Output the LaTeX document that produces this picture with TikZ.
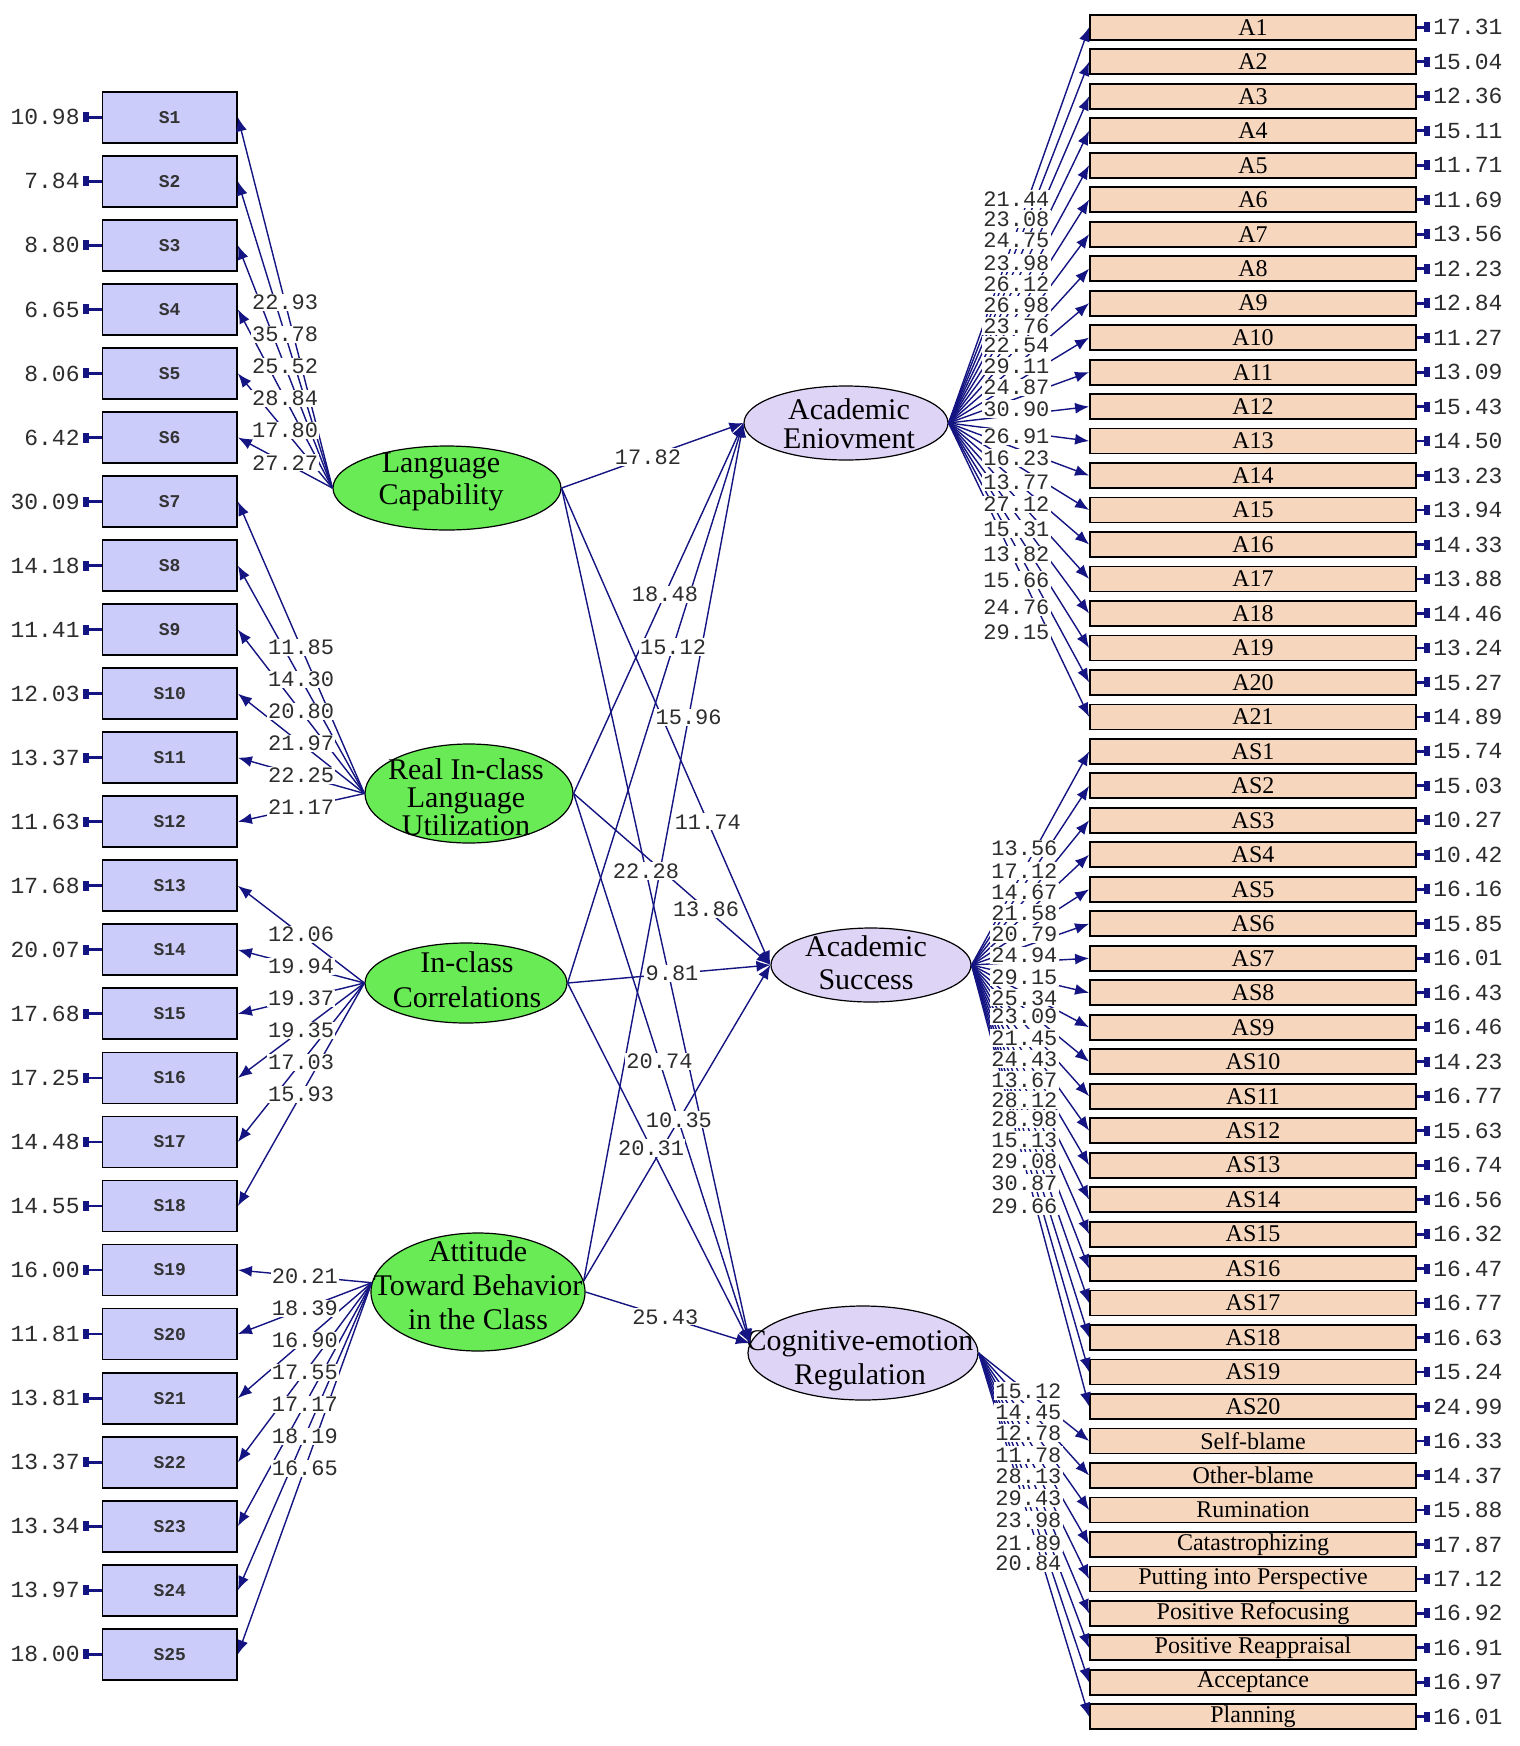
\documentclass[tikz,border=0pt]{standalone}
\usepackage{fontspec}
\setmainfont{Liberation Serif}
\newfontfamily\lmono{Liberation Mono}
\usetikzlibrary{shapes.geometric,arrows.meta}
\definecolor{sfill}{RGB}{204,204,250}
\definecolor{rfill}{RGB}{247,214,190}
\definecolor{gfill}{RGB}{105,235,85}
\definecolor{lfill}{RGB}{222,212,246}
\definecolor{lnc}{RGB}{20,20,130}
\definecolor{numc}{RGB}{45,45,45}
\newcommand\elf[1]{\fontsize{15}{#1}\selectfont}
\newcommand\tvf{\lmono\fontsize{11}{11}\selectfont}
\newcommand\erf{\lmono\fontsize{11.5}{11.5}\selectfont}
\newcommand\sbf{\lmono\bfseries\fontsize{9}{9}\selectfont}
\newcommand\rbf{\fontsize{12}{12}\selectfont}
\tikzset{
 sbox/.style={draw=black,line width=0.9pt,fill=sfill,minimum width=67.25pt,minimum height=25.5pt,inner sep=0pt,font=\sbf,text=black!80},
 rbox/.style={draw=black,line width=0.9pt,fill=rfill,minimum width=163pt,minimum height=12.5pt,inner sep=0pt,font=\rbf},
 exo/.style={ellipse,draw=black,line width=0.6pt,fill=gfill,inner sep=0pt},
 endo/.style={ellipse,draw=black,line width=0.6pt,fill=lfill,inner sep=0pt},
 elab/.style={align=center,inner sep=0pt},
 lnk/.style={draw=lnc,line width=0.7pt,-{Latex[length=7pt,width=5.5pt]}},
 tval/.style={fill=white,inner sep=0.6pt,font=\tvf,text=numc},
 errl/.style={inner sep=0pt,font=\erf,text=numc},
 stubL/.style={draw=lnc,line width=1.4pt,{Rectangle[length=3pt,width=5pt]}-,shorten <=1.5pt},
 stubR/.style={draw=lnc,line width=1.4pt,-{Rectangle[length=3pt,width=5pt]},shorten >=1.5pt},
}
\begin{document}
\begin{tikzpicture}[x=0.5pt,y=-0.5pt]
\useasboundingbox[fill=white] (0,0) rectangle (1520,1746);

% observed variables, left
\foreach \v [count=\i] in {10.98,7.84,8.80,6.65,8.06,6.42,30.09,14.18,11.41,12.03,13.37,11.63,17.68,20.07,17.68,17.25,14.48,14.55,16.00,11.81,13.81,13.37,13.34,13.97,18.00}{
  \node[sbox] (S\i) at (169.75,{117.3+(\i-1)*64.04}) {S\i};
  \node[errl,anchor=east] (eS\i) at (80,{117.3+(\i-1)*64.04}) {\v};
  \draw[stubL] (eS\i.east) -- (S\i.west);
}

% observed variables, right
\foreach \lab/\v [count=\k] in {A1/17.31,A2/15.04,A3/12.36,A4/15.11,A5/11.71,A6/11.69,A7/13.56,A8/12.23,A9/12.84,A10/11.27,A11/13.09,A12/15.43,A13/14.50,A14/13.23,A15/13.94,A16/14.33,A17/13.88,A18/14.46,A19/13.24,A20/15.27,A21/14.89,AS1/15.74,AS2/15.03,AS3/10.27,AS4/10.42,AS5/16.16,AS6/15.85,AS7/16.01,AS8/16.43,AS9/16.46,AS10/14.23,AS11/16.77,AS12/15.63,AS13/16.74,AS14/16.56,AS15/16.32,AS16/16.47,AS17/16.77,AS18/16.63,AS19/15.24,AS20/24.99,Self-blame/16.33,Other-blame/14.37,Rumination/15.88,Catastrophizing/17.87,Putting into Perspective/17.12,Positive Refocusing/16.92,Positive Reappraisal/16.91,Acceptance/16.97,Planning/16.01}{
  \node[rbox] (R\k) at (1253,{27.3+(\k-1)*34.48}) {\lab};
  \node[errl,anchor=west] (eR\k) at (1433,{27.3+(\k-1)*34.48}) {\v};
  \draw[stubR] (R\k.east) -- (eR\k.west);
}

% latent variables
\node[exo,minimum width=114pt,minimum height=42pt] (LC) at (447,488) {};
\node[exo,minimum width=104pt,minimum height=49.5pt] (RIU) at (469,793.5) {};
\node[exo,minimum width=101pt,minimum height=40pt] (ICC) at (466,983) {};
\node[exo,minimum width=107pt,minimum height=59pt] (ATB) at (478,1292) {};
\node[endo,minimum width=102pt,minimum height=37pt] (AE) at (846,423) {};
\node[endo,minimum width=100pt,minimum height=37pt] (AS) at (871,965) {};
\node[endo,minimum width=115pt,minimum height=47pt] (CER) at (863,1353) {};

\node[elab,font={\elf{16}}] (LCt) at (441,482) {Language\\Capability};
\node[elab,font={\elf{14}}] (RIUt) at (466,797) {Real In-class\\Language\\Utilization};
\node[elab,font={\elf{17.5}}] (ICCt) at (467,980) {In-class\\Correlations};
\node[elab,font={\elf{17}}] (ATBt) at (478,1285) {Attitude\\Toward Behavior\\in the Class};
\node[elab,font={\elf{14.5}}] (AEt) at (849,424) {Academic\\Eniovment};
\node[elab,font={\elf{16.5}}] (ASt) at (866,963) {Academic\\Success};
\node[elab,font={\elf{17}}] (CERt) at (860,1361) {Cognitive-emotion\\Regulation};

% measurement connectors, left
\foreach \i in {1,...,6} \draw[lnk] (LC.west) -- (S\i.east);
\foreach \i in {7,...,12} \draw[lnk] (RIU.west) -- (S\i.east);
\foreach \i in {13,...,18} \draw[lnk] (ICC.west) -- (S\i.east);
\foreach \i in {19,...,25} \draw[lnk] (ATB.175) -- (S\i.east);

% measurement connectors, right
\foreach \k in {1,...,21} \draw[lnk] (AE.east) -- (R\k.west);
\foreach \k in {22,...,41} \draw[lnk] (AS.east) -- (R\k.west);
\foreach \k in {42,...,50} \draw[lnk] (CER.east) -- (R\k.west);

% structural connectors
\draw[lnk] (LC.east) -- (AE.west);
\draw[lnk] (LC.east) -- (AS.west);
\draw[lnk] (LC.east) -- (CER.175);
\draw[lnk] (RIU.east) -- (AE.west);
\draw[lnk] (RIU.east) -- (AS.west);
\draw[lnk] (RIU.east) -- (CER.175);
\draw[lnk] (ICC.east) -- (AE.west);
\draw[lnk] (ICC.east) -- (AS.west);
\draw[lnk] (ICC.east) -- (CER.175);
\draw[lnk] (ATB.6) -- (AE.west);
\draw[lnk] (ATB.6) -- (AS.west);
\draw[lnk] (ATB.east) -- (CER.175);

% labels, left
\foreach \v [count=\i] in {22.93,35.78,25.52,28.84,17.80,27.27} \path (LC.west) -- node[tval] (tS\i) {\v} (S\i.east);
\foreach \v [count=\i from 7] in {11.85,14.30,20.80,21.97,22.25,21.17} \path (RIU.west) -- node[tval] (tS\i) {\v} (S\i.east);
\foreach \v [count=\i from 13] in {12.06,19.94,19.37,19.35,17.03,15.93} \path (ICC.west) -- node[tval] (tS\i) {\v} (S\i.east);
\foreach \v [count=\i from 19] in {20.21,18.39,16.90,17.55,17.17,18.19,16.65} \path (ATB.175) -- node[tval] (tS\i) {\v} (S\i.east);

% labels, structural
\path (LC.east) -- node[tval,pos=0.475] (p1) {17.82} (AE.west);
\path (LC.east) -- node[tval,pos=0.70] (p2) {11.74} (AS.west);
\path (LC.east) -- node[tval,pos=0.448] (p3) {22.28} (CER.175);
\path (RIU.east) -- node[tval,pos=0.538] (p4) {18.48} (AE.west);
\path (RIU.east) -- node[tval,pos=0.673] (p5) {13.86} (AS.west);
\path (RIU.east) -- node[tval,pos=0.487] (p6) {20.74} (CER.175);
\path (ICC.east) -- node[tval,pos=0.60] (p7) {15.12} (AE.west);
\path (ICC.east) -- node[tval,pos=0.515] (p8) {9.81} (AS.west);
\path (ICC.east) -- node[tval,pos=0.458] (p9) {20.31} (CER.175);
\path (ATB.6) -- node[tval,pos=0.657] (p10) {15.96} (AE.west);
\path (ATB.6) -- node[tval,pos=0.51] (p11) {10.35} (AS.west);
\path (ATB.east) -- node[tval,pos=0.485] (p12) {25.43} (CER.175);

% labels, right
\foreach \v/\y [count=\i] in {21.44/199,23.08/219,24.75/240.5,23.98/263,26.12/284,26.98/305,23.76/326,22.54/345,29.11/366,24.87/387.5,30.90/409,26.91/436.5,16.23/458,13.77/482,27.12/504.5,15.31/529,13.82/554.5,15.66/580,24.76/607,29.15/632.5}
  \node[tval,anchor=east] (tA\i) at (1051,\y) {\v};
\foreach \v/\y [count=\i] in {13.56/848.5,17.12/871,14.67/892,21.58/913,20.79/934,24.94/955.5,29.15/977.7,25.34/997.8,23.09/1016.7,21.45/1038,24.43/1059,13.67/1080,28.12/1100,28.98/1119,15.13/1140,29.08/1161,30.87/1183,29.66/1206}
  \node[tval,anchor=east] (tAS\i) at (1059,\y) {\v};
\foreach \v/\y [count=\i] in {15.12/1391,14.45/1412,12.78/1433,11.78/1455,28.13/1476.6,29.43/1498,23.98/1520,21.89/1543.5,20.84/1563.5}
  \node[tval,anchor=east] (tC\i) at (1063,\y) {\v};
\end{tikzpicture}
\end{document}
